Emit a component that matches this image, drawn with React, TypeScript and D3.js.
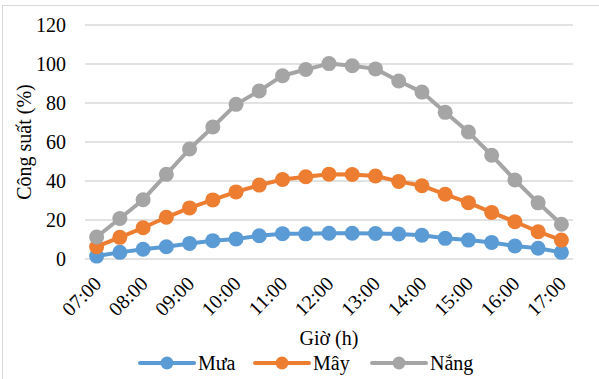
import React, { useEffect, useRef } from 'react';
import * as d3 from 'd3';

const hours = [
  '07:00', '07:30', '08:00', '08:30', '09:00', '09:30', '10:00', '10:30', '11:00', '11:30', '12:00',
  '12:30', '13:00', '13:30', '14:00', '14:30', '15:00', '15:30', '16:00', '16:30', '17:00',
];
const mua = [1.5, 3.4, 5, 6.3, 8, 9.4, 10.3, 11.9, 13, 12.9, 13.2, 13.2, 13.1, 12.8, 12.2, 10.6, 9.7, 8.5, 6.7, 5.5, 3.4];
const may = [6.3, 11.1, 16, 21.4, 26.2, 30.3, 34.4, 37.9, 40.8, 42.2, 43.5, 43.3, 42.6, 39.8, 37.6, 33.2, 28.9, 23.9, 19.1, 14, 9.7];
const nang = [11.3, 20.8, 30.4, 43.4, 56.4, 67.7, 79.3, 86.2, 94, 97.2, 100.2, 99.1, 97.5, 91.3, 85.6, 75.2, 65.1, 53.2, 40.5, 28.8, 17.8];
const seriesNames = ['Mưa', 'Mây', 'Nắng'];
const seriesColors = ['#5B9BD5', '#ED7D31', '#A5A5A5'];
const yTicks = [0, 20, 40, 60, 80, 100, 120];

const W = 599;
const H = 379;
const FONT = "'Liberation Serif', Tinos, 'Times New Roman', Times, 'Nimbus Roman', 'DejaVu Serif', serif";

export default function App() {
  const ref = useRef<SVGSVGElement>(null);

  useEffect(() => {
    const svg = d3.select(ref.current);
    svg.selectAll('*').remove();

    const x = d3.scaleBand().domain(hours).range([85, 573]).padding(0);
    const y = d3.scaleLinear().domain([0, 120]).range([259, 25]);
    const cx = (h: string) => (x(h) as number) + x.bandwidth() / 2;

    // chart border
    svg.append('rect')
      .attr('x', 2.5).attr('y', 5.5).attr('width', W).attr('height', H)
      .attr('fill', 'none').attr('stroke', '#D9D9D9').attr('stroke-width', 1);

    // gridlines
    svg.append('g').selectAll('line').data(yTicks).enter().append('line')
      .attr('x1', 85).attr('x2', 573)
      .attr('y1', d => y(d)).attr('y2', d => y(d))
      .attr('stroke', '#D9D9D9').attr('stroke-width', 1.5);

    const txt = (sel: any) => sel.attr('font-family', FONT).attr('font-size', 20).attr('fill', '#000');

    // y tick labels
    svg.append('g').selectAll('text').data(yTicks).enter().append('text')
      .attr('x', 66).attr('y', d => y(d)).attr('dy', '0.35em')
      .attr('text-anchor', 'end')
      .call(txt)
      .text(d => d);

    // x tick labels
    svg.append('g').selectAll('text').data(hours.filter(h => h.endsWith(':00'))).enter().append('text')
      .attr('transform', d => `translate(${cx(d) + 1},280) rotate(-45)`)
      .attr('dy', '0.35em')
      .attr('text-anchor', 'end')
      .call(txt)
      .text(d => d);

    // axis titles
    svg.append('text')
      .attr('transform', 'translate(24,142) rotate(-90)')
      .attr('dy', '0.35em').attr('text-anchor', 'middle')
      .call(txt)
      .text('Công suất (%)');
    svg.append('text')
      .attr('x', 329).attr('y', 338).attr('dy', '0.35em').attr('text-anchor', 'middle')
      .call(txt)
      .text('Giờ (h)');

    const series = [mua, may, nang];
    const line = d3.line<number>().x((_, i) => cx(hours[i])).y(d => y(d));

    series.forEach((vals, s) => {
      const g = svg.append('g');
      g.append('path')
        .attr('d', line(vals))
        .attr('fill', 'none')
        .attr('stroke', seriesColors[s])
        .attr('stroke-width', 4)
        .attr('stroke-linejoin', 'round');
      g.selectAll('circle').data(vals).enter().append('circle')
        .attr('cx', (_, i) => cx(hours[i]))
        .attr('cy', d => y(d))
        .attr('r', 7.5)
        .attr('fill', seriesColors[s]);
    });

    // legend
    const legendX = [140, 255, 372];
    const legend = svg.append('g');
    seriesNames.forEach((name, s) => {
      const lx = legendX[s];
      legend.append('line')
        .attr('x1', lx).attr('x2', lx + 54).attr('y1', 363).attr('y2', 363)
        .attr('stroke', seriesColors[s]).attr('stroke-width', 4).attr('stroke-linecap', 'round');
      legend.append('circle')
        .attr('cx', lx + 27).attr('cy', 363).attr('r', 6.5).attr('fill', seriesColors[s]);
      legend.append('text')
        .attr('x', lx + 58).attr('y', 363).attr('dy', '0.35em')
        .call(txt)
        .text(name);
    });
  }, []);

  return (
    <svg ref={ref} width={W} height={H} style={{ position: 'absolute', left: 0, top: 0, background: '#fff' }} />
  );
}
